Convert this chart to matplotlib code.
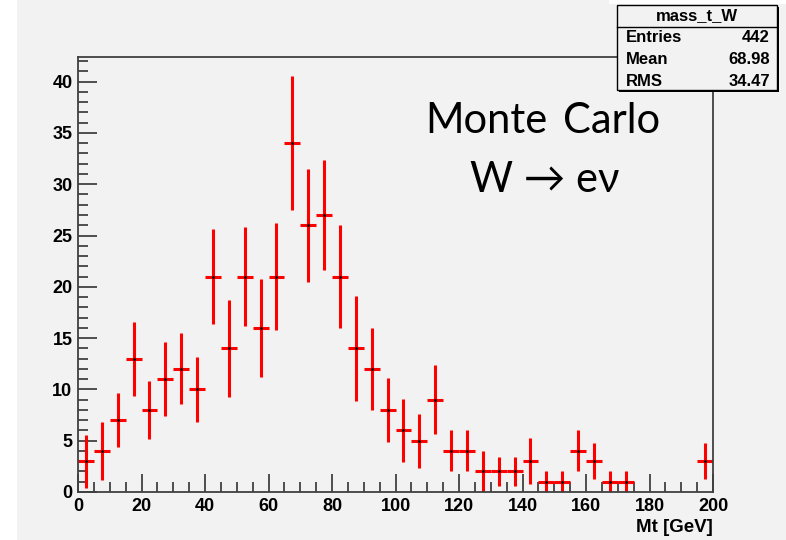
"""
ROOT-style histogram of the transverse mass Mt for W -> e nu (Monte Carlo).
"""

import matplotlib.pyplot as plt
import numpy as np
from matplotlib.patches import Rectangle

# bin edges of 5 GeV from 0 to 200, contents and errors
bin_edges = np.arange(0, 205, 5)
counts = [3, 4, 7, 13, 8, 11, 12, 10, 21, 14,
          21, 16, 21, 34, 26, 27, 21, 14, 12, 8,
          6, 5, 9, 4, 4, 2, 2, 2, 3, 1,
          1, 4, 3, 1, 1, 0, 0, 0, 0, 3]
errors = [2.6, 2.8, 2.65, 3.6, 2.8, 3.6, 3.45, 3.2, 4.6, 4.75,
          4.8, 4.75, 5.2, 6.5, 5.5, 5.35, 5.0, 5.1, 4.0, 3.15,
          3.1, 2.65, 3.35, 2.0, 2.0, 2.0, 1.4, 1.4, 2.25, 1.0,
          1.0, 2.0, 1.75, 1.0, 1.0, 0, 0, 0, 0, 1.75]

stats_title = "mass_t_W"
stats_rows = [("Entries", "442"), ("Mean", "68.98"), ("RMS", "34.47")]

W, H = 786, 540
BG = "#f2f2f2"
TICK_FONT = {"family": "Liberation Sans", "weight": "bold", "size": 13}

fig = plt.figure(figsize=(W / 100, H / 100), dpi=100, facecolor=BG)

# white margins of the original canvas
fig.patches.append(Rectangle((0, 0), 17 / W, 1, transform=fig.transFigure,
                             facecolor="white", edgecolor="none", zorder=0))
fig.patches.append(Rectangle((609 / W, 1 - 4 / H), 1, 4 / H, transform=fig.transFigure,
                             facecolor="white", edgecolor="none", zorder=0))

ax = fig.add_axes([78 / W, (H - 492) / H, (713 - 78) / W, (492 - 57) / H])
ax.set_facecolor(BG)

centers = 0.5 * (bin_edges[:-1] + bin_edges[1:])
widths = np.diff(bin_edges)
counts = np.array(counts, dtype=float)
errors = np.array(errors, dtype=float)
mask = counts > 0

ax.errorbar(centers[mask], counts[mask], xerr=widths[mask] / 2, yerr=errors[mask],
            fmt="none", ecolor="red", elinewidth=2.2, capsize=0)
ax.plot(centers[mask], counts[mask], ls="none", marker="o", ms=1, color="black")

ax.set_xlim(0, 200)
ax.set_ylim(0, 42.4)
ax.set_xticks(np.arange(0, 201, 20))
ax.set_xticks(np.arange(0, 201, 5), minor=True)
ax.set_yticks(np.arange(0, 41, 5))
ax.set_yticks(np.arange(0, 43, 1), minor=True)

ax.tick_params(which="both", direction="in", color="#333333", width=1.2)
ax.tick_params(axis="x", which="major", length=13, pad=4)
ax.tick_params(axis="x", which="minor", length=7)
ax.tick_params(axis="y", which="major", length=14, pad=4)
ax.tick_params(axis="y", which="minor", length=7)
for lab in ax.get_xticklabels() + ax.get_yticklabels():
    lab.set_fontproperties(TICK_FONT)

for sp in ax.spines.values():
    sp.set_color("#404040")
    sp.set_linewidth(1.3)

fig.text(713 / W, 1 - 528 / H, "Mt [GeV]", ha="right", va="center",
         fontfamily="Liberation Sans", fontweight="bold", fontsize=13.5)

# annotation
big = {"family": ["Lato", "DejaVu Sans"], "size": 30, "color": "black"}
fig.text(425 / W, 1 - 133 / H, "Monte", ha="left", va="baseline", **big)
fig.text(563 / W, 1 - 133 / H, "Carlo", ha="left", va="baseline", **big)
fig.text(545 / W, 1 - 192 / H, "W \u2192 e\u03bd", ha="center", va="baseline", **big)

# stats box with shadow
bx0, bx1, by0, by1 = 617, 777, 5, 90
fig.patches.append(Rectangle(((bx0 + 2) / W, 1 - (by1 + 2) / H), (bx1 - bx0) / W,
                             (by1 - by0) / H, transform=fig.transFigure,
                             facecolor="black", edgecolor="none", zorder=5))
fig.patches.append(Rectangle((bx0 / W, 1 - by1 / H), (bx1 - bx0) / W, (by1 - by0) / H,
                             transform=fig.transFigure, facecolor=BG,
                             edgecolor="black", linewidth=1.0, zorder=6))
fig.lines.append(plt.Line2D([bx0 / W, bx1 / W], [1 - 27 / H, 1 - 27 / H],
                            transform=fig.transFigure, color="black", lw=1.0, zorder=7))
box_font = {"family": "Liberation Sans", "weight": "bold", "size": 12}
fig.text((bx0 + bx1) / 2 / W, 1 - 16 / H, stats_title, ha="center", va="center",
         fontdict=box_font, zorder=8)
for i, (name, val) in enumerate(stats_rows):
    y = 1 - (38 + i * 21.5) / H
    fig.text(626 / W, y, name, ha="left", va="center", fontdict=box_font, zorder=8)
    fig.text(770 / W, y, val, ha="right", va="center", fontdict=box_font, zorder=8)

fig.savefig("out.png", dpi=100, facecolor=BG)
